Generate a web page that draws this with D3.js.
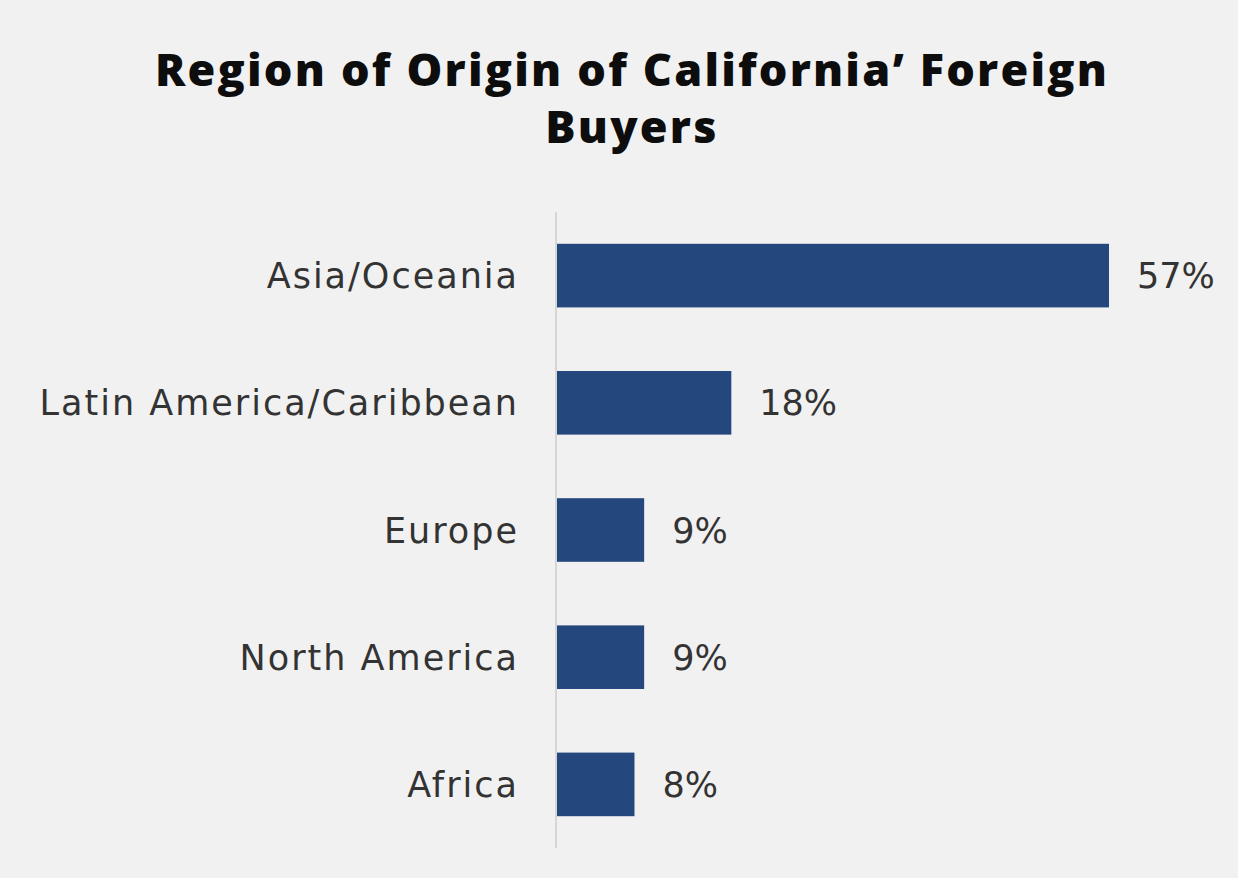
<!DOCTYPE html>
<html>
<head>
<meta charset="utf-8">
<script src="https://cdn.jsdelivr.net/npm/d3@7"></script>
<style>
  html, body { margin: 0; padding: 0; background: #f1f1f1; }
  svg { display: block; }
</style>
</head>
<body>
<svg id="chart" width="1238" height="878"></svg>
<script>
const categories = ["Asia/Oceania", "Latin America/Caribbean", "Europe", "North America", "Africa"];
const values = [57, 18, 9, 9, 8];
const valueLabels = ["57%", "18%", "9%", "9%", "8%"];
const titleLines = ["Region of Origin of California\u2019 Foreign", "Buyers"];

const W = 1238, H = 878;
const svg = d3.select("#chart");
svg.append("rect").attr("width", W).attr("height", H).attr("fill", "#f1f1f1");

const titleFont = "'Open Sans', 'DejaVu Sans', sans-serif";
const labelFont = "'DejaVu Sans', 'Open Sans', sans-serif";

svg.append("g").selectAll("text").data(titleLines).join("text")
  .attr("x", 632)
  .attr("y", (d, i) => 86 + i * 57)
  .attr("text-anchor", "middle")
  .attr("font-family", titleFont)
  .attr("font-weight", 800)
  .attr("font-size", 45)
  .attr("letter-spacing", 2.2)
  .attr("fill", "#0d0d0d")
  .text(d => d);

const x0 = 557;
const x = d3.scaleLinear().domain([0, 57]).range([x0, 1109]);
const y = d3.scaleBand().domain(categories).range([212, 848]).paddingInner(0.5).paddingOuter(0.25);

// axis line
svg.append("line")
  .attr("x1", 556).attr("x2", 556)
  .attr("y1", 212).attr("y2", 848)
  .attr("stroke", "#d6d6d6").attr("stroke-width", 2);

svg.append("g").selectAll("rect").data(categories).join("rect")
  .attr("x", x0)
  .attr("y", d => y(d))
  .attr("width", (d, i) => x(values[i]) - x0)
  .attr("height", y.bandwidth())
  .attr("fill", "#24477d");

svg.append("g").selectAll("text").data(categories).join("text")
  .attr("x", 519)
  .attr("y", d => y(d) + y.bandwidth() / 2)
  .attr("dy", "0.36em")
  .attr("text-anchor", "end")
  .attr("font-family", labelFont)
  .attr("font-size", 35)
  .attr("letter-spacing", 2)
  .attr("fill", "#333333")
  .text(d => d);

svg.append("g").selectAll("text").data(categories).join("text")
  .attr("x", (d, i) => x(values[i]) + 28)
  .attr("y", d => y(d) + y.bandwidth() / 2)
  .attr("dy", "0.36em")
  .attr("font-family", labelFont)
  .attr("font-size", 35)
  .attr("fill", "#333333")
  .text((d, i) => valueLabels[i]);
</script>
</body>
</html>
